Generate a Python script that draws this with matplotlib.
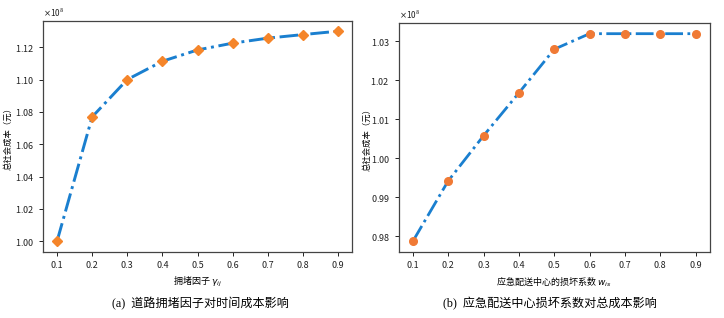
import matplotlib
matplotlib.use("Agg")
import matplotlib.pyplot as plt
from matplotlib.ticker import ScalarFormatter

plt.rcParams['font.family'] = ['Noto Sans CJK SC', 'DejaVu Sans']
plt.rcParams['axes.unicode_minus'] = False
plt.rcParams['mathtext.fontset'] = 'dejavusans'

x_a = [0.1, 0.2, 0.3, 0.4, 0.5, 0.6, 0.7, 0.8, 0.9]
cost_a = [1.000e8, 1.0769e8, 1.1000e8, 1.1113e8, 1.1183e8, 1.1225e8, 1.1256e8, 1.1278e8, 1.1299e8]
x_b = [0.1, 0.2, 0.3, 0.4, 0.5, 0.6, 0.7, 0.8, 0.9]
cost_b = [0.9787e8, 0.9942e8, 1.0058e8, 1.0168e8, 1.0280e8, 1.0320e8, 1.0320e8, 1.0320e8, 1.0320e8]
xticks = [0.1, 0.2, 0.3, 0.4, 0.5, 0.6, 0.7, 0.8, 0.9]
yticks_a = [1.00e8, 1.02e8, 1.04e8, 1.06e8, 1.08e8, 1.10e8, 1.12e8]
yticks_b = [0.98e8, 0.99e8, 1.00e8, 1.01e8, 1.02e8, 1.03e8]
ylabel = "总社会成本（元）"
xlabel_a = "拥堵因子 $\\gamma_{ij}$"
xlabel_b = "应急配送中心的损坏系数 $w_{is}$"
caption_a = "道路拥堵因子对时间成本影响"
caption_b = "应急配送中心损坏系数对总成本影响"

fig = plt.figure(figsize=(7.24, 3.18), dpi=100)
W, H = 724, 318
ax1 = fig.add_axes([43 / W, 1 - 251.7 / H, (352 - 43) / W, (251.7 - 20.7) / H])
ax2 = fig.add_axes([398.7 / W, 1 - 251.7 / H, (709.7 - 398.7) / W, (251.7 - 23.3) / H])

line_c = '#1a7fcf'
ax1.plot(x_a, cost_a, linestyle='-.', color=line_c, linewidth=2.1,
         marker='D', markersize=5.5, markerfacecolor='#f5852a', markeredgecolor='#f5852a')
ax2.plot(x_b, cost_b, linestyle='-.', color=line_c, linewidth=2.0,
         marker='o', markersize=5.5, markerfacecolor='#f07a35', markeredgecolor='#f07a35')

for ax, yt, xl, lx in [(ax1, yticks_a, xlabel_a, -0.1), (ax2, yticks_b, xlabel_b, -0.088)]:
    fmt = ScalarFormatter(useMathText=True)
    fmt.set_powerlimits((8, 8))
    ax.yaxis.set_major_formatter(fmt)
    ax.set_xticks(xticks)
    ax.set_yticks(yt)
    ax.tick_params(labelsize=6.5, length=3, width=0.7, colors='#222222')
    ax.yaxis.get_offset_text().set_fontsize(6)
    ax.set_ylabel(ylabel, fontsize=6)
    ax.yaxis.set_label_coords(lx, 0.5)
    ax.set_xlabel(xl, fontsize=6.5, labelpad=4)
    for s in ax.spines.values():
        s.set_linewidth(0.9)
        s.set_color('#444444')

fig.text(200 / W, 1 - 304 / H, "(a)  " + caption_a, ha='center', va='center', fontsize=8.7,
         family=['Liberation Serif', 'Noto Sans CJK SC'])
fig.text(550 / W, 1 - 304 / H, "(b)  " + caption_b, ha='center', va='center', fontsize=8.7,
         family=['Liberation Serif', 'Noto Sans CJK SC'])

fig.savefig("out.png", dpi=100)
